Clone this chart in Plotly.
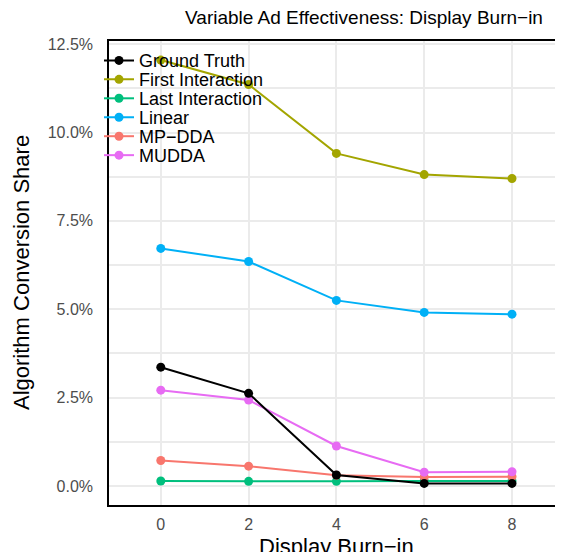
import plotly.graph_objects as go

burn_in = [0, 2, 4, 6, 8]
series_names = ["Ground Truth", "First Interaction", "Last Interaction", "Linear", "MP\u2212DDA", "MUDDA"]
ground_truth = [3.36, 2.62, 0.31, 0.07, 0.07]
first_interaction = [12.05, 11.36, 9.41, 8.81, 8.70]
last_interaction = [0.14, 0.13, 0.13, 0.14, 0.14]
linear = [6.72, 6.35, 5.25, 4.91, 4.86]
mp_dda = [0.72, 0.56, 0.30, 0.25, 0.26]
mudda = [2.71, 2.43, 1.13, 0.39, 0.40]
series_values = [ground_truth, first_interaction, last_interaction, linear, mp_dda, mudda]
colors = ["#000000", "#A3A500", "#00BF7D", "#00B0F6", "#F8766D", "#E76BF3"]

y_ticks = [0, 2.5, 5, 7.5, 10, 12.5]
y_tick_labels = ["0.0%", "2.5%", "5.0%", "7.5%", "10.0%", "12.5%"]
x_ticks = [0, 2, 4, 6, 8]

# the page body has an 8px margin on every side; size the figure so that it
# fits the 563x560 window without scrollbars, and lay out in screen pixels
OFF = 8
W, H = 563 - 2 * OFF, 560 - 2 * OFF
x_range = [-1.18, 9.18]
px_per_unit = 43.9
panel_left, panel_top, panel_bottom = 109 - OFF, 41 - OFF, 505 - OFF
M_L, M_R, M_T, M_B = panel_left, 0, panel_top, H - panel_bottom
plot_h = H - M_T - M_B
plot_w = W - M_L - M_R
# keep the same x scale as the reference: the panel is cut by the window edge
x_range[1] = x_range[0] + plot_w / px_per_unit

fig = go.Figure()
draw_order = [1, 2, 3, 4, 5, 0]
for i in draw_order:
    fig.add_trace(go.Scatter(
        x=burn_in, y=series_values[i], name=series_names[i],
        mode="lines+markers",
        line=dict(color=colors[i], width=2),
        marker=dict(color=colors[i], size=9),
        legend="legend" if i == 0 else "legend%d" % (i + 1),
    ))

# one single-entry legend per series so rows can be packed like the reference
legend_layouts = {}
for i in range(len(series_names)):
    row_center_fig = 60.7 + 18.95 * i - OFF
    key = "legend" if i == 0 else "legend%d" % (i + 1)
    legend_layouts[key] = dict(
        x=(99 - OFF - M_L) / plot_w, xanchor="left",
        y=1 - (row_center_fig - M_T) / plot_h, yanchor="middle",
        bgcolor="rgba(0,0,0,0)", borderwidth=0,
        font=dict(size=18, color="black"),
        itemwidth=30,
    )

fig.update_layout(
    width=W, height=H,
    margin=dict(l=M_L, r=M_R, t=M_T, b=M_B, autoexpand=False),
    plot_bgcolor="white", paper_bgcolor="white",
    font=dict(family="Liberation Sans, Arial, sans-serif", color="black"),
    title=dict(text="Variable Ad Effectiveness: Display Burn\u2212in",
               x=(364 - OFF) / W, xanchor="center", y=1 - 3 / H, yanchor="top",
               pad=dict(t=0, b=0, l=0, r=0),
               font=dict(size=19, color="black")),
    showlegend=True,
    annotations=[
        dict(
            text="Algorithm Conversion Share", textangle=-90,
            xref="paper", yref="paper", x=(21 - OFF - M_L) / plot_w, y=0.5,
            xanchor="center", yanchor="middle", showarrow=False,
            font=dict(size=22, color="black"),
        ),
        dict(
            text="Display Burn\u2212in",
            xref="paper", yref="paper", x=(336 - OFF - M_L) / plot_w,
            y=-(546 - OFF - panel_bottom) / plot_h,
            xanchor="center", yanchor="middle", showarrow=False,
            font=dict(size=22, color="black"),
        ),
    ],
    **legend_layouts,
)
fig.update_xaxes(
    automargin=False,
    range=x_range, tickvals=x_ticks, ticktext=[str(v) for v in x_ticks],
    showgrid=True, gridcolor="#EBEBEB", gridwidth=2,
    showline=True, linecolor="black", linewidth=1.5, mirror=True,
    zeroline=False, ticks="", ticklabelstandoff=4, tickfont=dict(size=16, color="#4D4D4D"),
)
fig.update_yaxes(
    automargin=False,
    range=[-0.54, 12.59], tickvals=y_ticks, ticktext=y_tick_labels,
    showgrid=True, gridcolor="#EBEBEB", gridwidth=2,
    minor=dict(dtick=1.25, tick0=1.25, showgrid=True, gridcolor="#EBEBEB", gridwidth=1.5),
    showline=True, linecolor="black", linewidth=1.5, mirror=False,
    zeroline=False, ticks="", ticklabelstandoff=11, tickfont=dict(size=16, color="#4D4D4D"),
)

fig.write_html("out.html")
